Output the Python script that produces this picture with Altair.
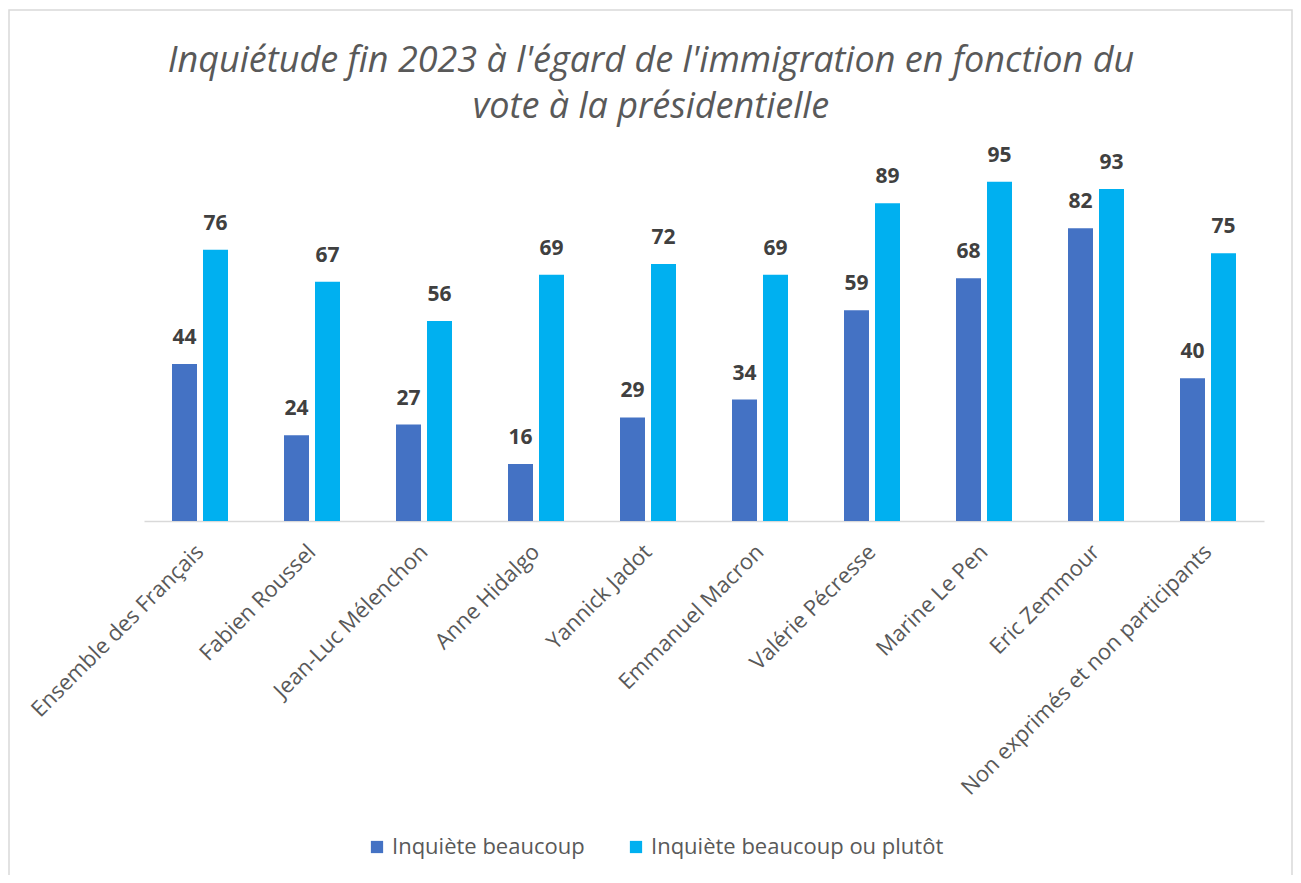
import altair as alt
import pandas as pd

categories = ["Ensemble des Français", "Fabien Roussel", "Jean-Luc Mélenchon", "Anne Hidalgo",
              "Yannick Jadot", "Emmanuel Macron", "Valérie Pécresse", "Marine Le Pen",
              "Eric Zemmour", "Non exprimés et non participants"]
series = ["Inquiète beaucoup", "Inquiète beaucoup ou plutôt"]
beaucoup = [44, 24, 27, 16, 29, 34, 59, 68, 82, 40]
beaucoup_ou_plutot = [76, 67, 56, 69, 72, 69, 89, 95, 93, 75]
colors = ["#4472C4", "#00B0F0"]

rows = []
for c, a, b in zip(categories, beaucoup, beaucoup_ou_plutot):
    rows.append({"cat": c, "serie": series[0], "val": a})
    rows.append({"cat": c, "serie": series[1], "val": b})
df = pd.DataFrame(rows)

FONT = "Open Sans"

xenc = alt.X("cat:N", sort=categories, title=None,
             scale=alt.Scale(paddingInner=0.5, paddingOuter=0.25),
             axis=alt.Axis(labelAngle=-45, labelAlign="right", labelBaseline="middle",
                           labelFontSize=22, labelColor="#595959", labelFont=FONT,
                           labelPadding=27, ticks=False, domainColor="#d9d9d9",
                           domainWidth=1.5, labelLimit=500))
yenc = alt.Y("val:Q", scale=alt.Scale(domain=[0, 100]), axis=None)
xoff = alt.XOffset("serie:N", sort=series, scale=alt.Scale(paddingInner=0.1935, paddingOuter=0))

base = alt.Chart(df).encode(x=xenc, y=yenc, xOffset=xoff)

bars = base.mark_bar().encode(
    color=alt.Color("serie:N", sort=series, scale=alt.Scale(domain=series, range=colors),
                    legend=alt.Legend(title=None, orient="none", legendX=222, legendY=672,
                                      direction="horizontal", symbolType="square",
                                      symbolSize=150, symbolStrokeWidth=0,
                                      labelFontSize=22, labelColor="#595959", labelFont=FONT,
                                      columnPadding=40, labelLimit=500))
)
labels = base.mark_text(baseline="bottom", dy=-16, fontSize=21, fontWeight="bold",
                        color="#404040", font=FONT).encode(text="val:Q")

frame = alt.Chart(pd.DataFrame({"a": [0]})).mark_rect(
    fill=None, stroke="#d9d9d9", strokeWidth=1.5
).encode(x=alt.value(-135), x2=alt.value(1148), y=alt.value(-154), y2=alt.value(740))

chart = alt.layer(frame, bars, labels).properties(
    width=1120, height=357,
    background="white",
    title=alt.TitleParams(
        ["Inquiétude fin 2023 à l'égard de l'immigration en fonction du",
         "vote à la présidentielle"],
        font=FONT, fontSize=36, fontStyle="italic", fontWeight="normal",
        color="#595959", anchor="middle", frame="group", dx=-53, offset=-117, lineHeight=46),
    autosize=alt.AutoSizeParams(type="none"),
    padding={"left": 136, "top": 156, "right": 29, "bottom": 354},
).configure_view(strokeWidth=0, stroke="transparent")

chart.save("out.html", embed_options={"renderer": "svg", "actions": False})
